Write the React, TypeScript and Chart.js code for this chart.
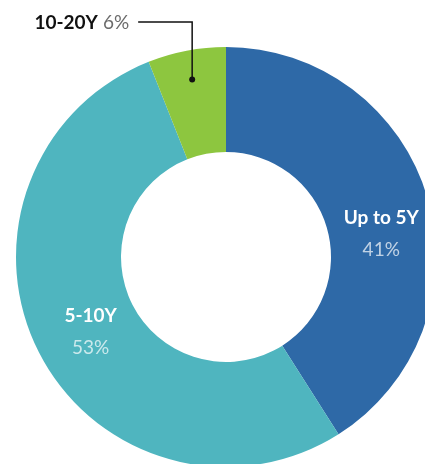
import React, { useEffect, useRef } from "react";
import { Chart, registerables } from "chart.js";

Chart.register(...registerables);

const categories = ["Up to 5Y", "5-10Y", "10-20Y"];
const shares = [41, 53, 6];
const sliceColors = ["#2E69A7", "#4FB5BF", "#8DC63F"];
const valueTextColors = ["rgba(255,255,255,0.7)", "rgba(255,255,255,0.7)", "#6b6b6b"];
// label placement relative to each slice centroid (inside labels) or leader callout (outside)
const labelOffsets = [
  [4, 20],
  [5, 2],
  [0, 0],
];
const outsideLabel = [false, false, true];

const FONT = "Lato, 'Open Sans', sans-serif";

const labelPlugin = {
  id: "sliceLabels",
  afterDatasetsDraw(chart: any) {
    const ctx = chart.ctx as CanvasRenderingContext2D;
    const meta = chart.getDatasetMeta(0);
    meta.data.forEach((arc: any, i: number) => {
      const { x, y, startAngle, endAngle, innerRadius, outerRadius } = arc.getProps(
        ["x", "y", "startAngle", "endAngle", "innerRadius", "outerRadius"],
        true
      );
      const name = categories[i];
      const val = shares[i] + "%";
      ctx.save();
      if (!outsideLabel[i]) {
        const c = arc.tooltipPosition(true);
        const cx = c.x + labelOffsets[i][0];
        const cy = c.y + labelOffsets[i][1];
        ctx.textAlign = "center";
        ctx.textBaseline = "middle";
        ctx.fillStyle = "#ffffff";
        ctx.font = `bold 19px ${FONT}`;
        ctx.fillText(name, cx, cy - 15);
        ctx.font = `normal 400 19px ${FONT}`;
        ctx.fillStyle = valueTextColors[i];
        ctx.fillText(val, cx, cy + 17);
      } else {
        const mid = (startAngle + endAngle) / 2;
        const r = innerRadius + 0.72 * (outerRadius - innerRadius);
        const dx = x + Math.cos(mid) * r;
        const dy = y + Math.sin(mid) * r;
        const topY = y - outerRadius - 25;
        const leftX = dx - 54;
        ctx.strokeStyle = "#111111";
        ctx.lineWidth = 1.5;
        ctx.beginPath();
        ctx.moveTo(dx, dy);
        ctx.lineTo(dx, topY);
        ctx.lineTo(leftX, topY);
        ctx.stroke();
        ctx.fillStyle = "#111111";
        ctx.beginPath();
        ctx.arc(dx, dy, 3, 0, Math.PI * 2);
        ctx.fill();
        ctx.textBaseline = "middle";
        ctx.textAlign = "right";
        ctx.font = `normal 400 19px ${FONT}`;
        const valW = ctx.measureText(val).width;
        ctx.fillStyle = valueTextColors[i];
        ctx.fillText(val, leftX - 9, topY + 1);
        ctx.font = `bold 19px ${FONT}`;
        ctx.fillStyle = "#111111";
        ctx.fillText(name, leftX - 9 - valW - 5, topY + 1);
      }
      ctx.restore();
    });
  },
};

export default function App() {
  const ref = useRef<HTMLCanvasElement>(null);
  useEffect(() => {
    if (!ref.current) return;
    const chart = new Chart(ref.current, {
      type: "doughnut",
      data: {
        labels: categories,
        datasets: [
          {
            data: shares,
            backgroundColor: sliceColors,
            borderWidth: 0,
          },
        ],
      },
      options: {
        animation: false,
        responsive: false,
        cutout: "50%",
        layout: { padding: { left: 16, top: 47, right: 16, bottom: 47 } },
        plugins: {
          legend: { display: false },
          tooltip: { enabled: false },
        },
      },
      plugins: [labelPlugin],
    });
    return () => chart.destroy();
  }, []);
  return (
    <div style={{ position: "fixed", left: 0, top: 0, width: 452, height: 514, background: "#fff" }}>
      <canvas ref={ref} width={452} height={514} style={{ display: "block" }} />
    </div>
  );
}
